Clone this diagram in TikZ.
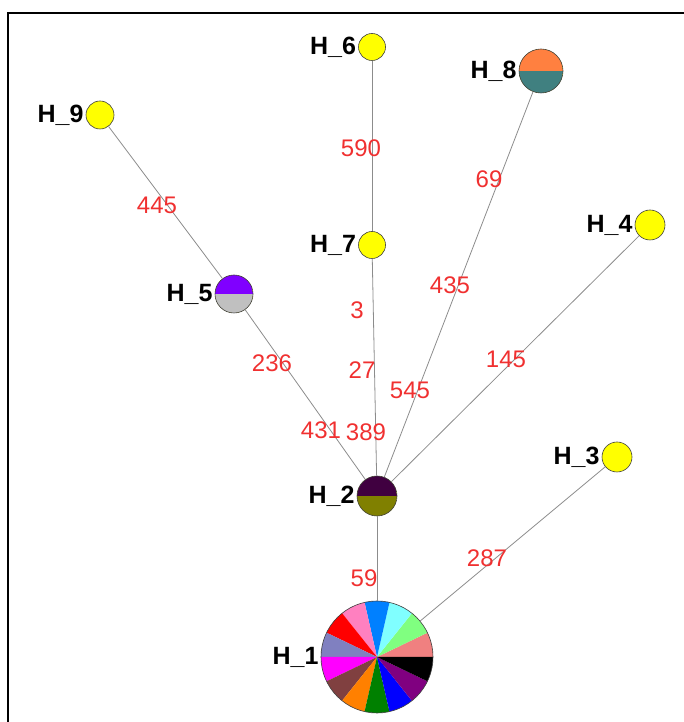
\documentclass[tikz,border=0pt]{standalone}
\usepackage{fontspec}
\setmainfont{Liberation Sans}
\usetikzlibrary{positioning}

\definecolor{hapyellow}{HTML}{FFFF00}
\definecolor{linkgray}{HTML}{8C8C8C}
\definecolor{numred}{HTML}{F03030}
% pie slices of H_1
\definecolor{pcA}{HTML}{F08080}
\definecolor{pcB}{HTML}{80FF80}
\definecolor{pcC}{HTML}{80FFFF}
\definecolor{pcD}{HTML}{0080FF}
\definecolor{pcE}{HTML}{FF80C0}
\definecolor{pcF}{HTML}{FF0000}
\definecolor{pcG}{HTML}{8080C0}
\definecolor{pcH}{HTML}{FF00FF}
\definecolor{pcI}{HTML}{804040}
\definecolor{pcJ}{HTML}{FF8000}
\definecolor{pcK}{HTML}{008000}
\definecolor{pcL}{HTML}{0000FF}
\definecolor{pcM}{HTML}{800080}
\definecolor{pcN}{HTML}{000000}
% halves
\definecolor{darkplum}{HTML}{400040}
\definecolor{olivedrab}{HTML}{808000}
\definecolor{violetA}{HTML}{8000FF}
\definecolor{silverA}{HTML}{C0C0C0}
\definecolor{orangeA}{HTML}{FF8040}
\definecolor{tealA}{HTML}{408080}

\tikzset{
  hap/.style={circle, draw=black!75, line width=0.6pt, inner sep=0pt, fill=hapyellow},
  halves/.style 2 args={path picture={
      \fill[#1] (path picture bounding box.west) rectangle (path picture bounding box.north east);
      \fill[#2] (path picture bounding box.south west) rectangle (path picture bounding box.east);}},
  hlab/.style={font=\fontsize{25}{25}\selectfont\bfseries, inner sep=1pt},
  elab/.style={font=\fontsize{24}{24}\selectfont, text=numred, inner sep=0pt},
  link/.style={draw=linkgray, line width=0.8pt}
}

\begin{document}
\begin{tikzpicture}[x=1pt, y=1pt]
	\useasboundingbox (0,0) rectangle (684,722);
	\draw [line width=2.5pt] (8,0) -- (8,709) -- (684,709);

	% haplotypes
	\node [hap, minimum size=112pt, fill=none, path picture={
	    \foreach \col [count=\i from 0] in {pcA,pcB,pcC,pcD,pcE,pcF,pcG,pcH,pcI,pcJ,pcK,pcL,pcM,pcN}
	      \fill[\col] (path picture bounding box.center) -- ++(\i*360/14:60)
	        arc[start angle=\i*360/14, end angle=(\i+1)*360/14, radius=60] -- cycle;
	  }] (h1) at (377,65) {};
	\node [hap, minimum size=40pt, halves={darkplum}{olivedrab}] (h2) at (377,226) {};
	\node [hap, minimum size=30pt] (h3) at (617,265) {};
	\node [hap, minimum size=30pt] (h4) at (650,497) {};
	\node [hap, minimum size=38pt, halves={violetA}{silverA}] (h5) at (234,428) {};
	\node [hap, minimum size=27pt] (h6) at (372,675) {};
	\node [hap, minimum size=27pt] (h7) at (372,477) {};
	\node [hap, minimum size=44pt, halves={orangeA}{tealA}] (h8) at (541,651) {};
	\node [hap, minimum size=28pt] (h9) at (100,607) {};

	\node [hlab, left=1pt of h1] (l1) {H\_1};
	\node [hlab, left=1pt of h2] (l2) {H\_2};
	\node [hlab, left=1pt of h3] (l3) {H\_3};
	\node [hlab, left=1pt of h4] (l4) {H\_4};
	\node [hlab, left=1pt of h5] (l5) {H\_5};
	\node [hlab, left=1pt of h6] (l6) {H\_6};
	\node [hlab, left=1pt of h7] (l7) {H\_7};
	\node [hlab, left=1pt of h8] (l8) {H\_8};
	\node [hlab, left=1pt of h9] (l9) {H\_9};

	% links
	\draw [link] (h6) -- (h7);
	\draw [link] (h7) -- (h2);
	\draw [link] (h9) -- (h5);
	\draw [link] (h5) -- (h2);
	\draw [link] (h8) -- (h2);
	\draw [link] (h4) -- (h2);
	\draw [link] (h3) -- (h1);
	\draw [link] (h2) -- (h1);

	% mutated positions
	\node [elab] (n590) at (361,574) {590};
	\node [elab] (n445) at (157,517) {445};
	\node [elab] (n69) at (489,543) {69};
	\node [elab] (n435) at (450,437) {435};
	\node [elab] (n545) at (410,332) {545};
	\node [elab] (n3) at (357,412) {3};
	\node [elab] (n27) at (362,352) {27};
	\node [elab] (n389) at (366,290) {389};
	\node [elab] (n431) at (321,292) {431};
	\node [elab] (n236) at (272,359) {236};
	\node [elab] (n145) at (506,363) {145};
	\node [elab] (n287) at (487,164) {287};
	\node [elab] (n59) at (364,144) {59};
\end{tikzpicture}
\end{document}
